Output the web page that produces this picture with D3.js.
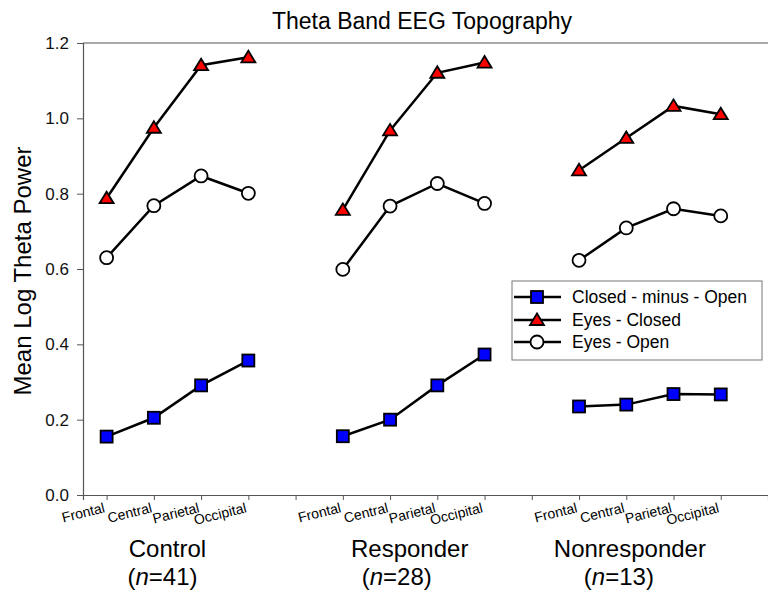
<!DOCTYPE html>
<html><head><meta charset="utf-8">
<script src="https://cdn.jsdelivr.net/npm/d3@7"></script>
<style>body{margin:0;background:#fff}svg{display:block}text{font-family:Arial,"Liberation Sans",sans-serif}</style>
</head><body><svg id="c" width="768" height="593"></svg>
<script>
const regions = ["Frontal","Central","Parietal","Occipital"];
const groups = ["Control","Responder","Nonresponder"];
const groupN = [41,28,13];
const yTicks = [0,0.2,0.4,0.6,0.8,1.0,1.2];
const seriesNames = ["Closed - minus - Open","Eyes - Closed","Eyes - Open"];
const closedMinusOpen = [[0.155,0.205,0.291,0.357],[0.156,0.200,0.291,0.373],[0.235,0.240,0.268,0.267]];
const eyesClosed = [[0.788,0.975,1.141,1.162],[0.757,0.968,1.121,1.148],[0.862,0.948,1.033,1.011]];
const eyesOpen = [[0.630,0.768,0.847,0.801],[0.599,0.767,0.827,0.774],[0.623,0.709,0.760,0.741]];

const svg = d3.select("#c");
const L=83, R=768, T=43, B=495;
const slots = groups.length*(regions.length+1);
const x = d3.scaleLinear().domain([-0.5, slots-1]).range([L,R]);
const y = d3.scaleLinear().domain([0,1.2]).range([B,T]);
const axisCol="#555";

svg.append("text").attr("x",422).attr("y",29).attr("text-anchor","middle")
  .attr("font-size",23).text("Theta Band EEG Topography");

svg.append("line").attr("x1",L).attr("x2",R).attr("y1",T).attr("y2",T).attr("stroke",axisCol).attr("stroke-width",1.2);

const ya = svg.append("g").attr("transform",`translate(${L},0)`)
  .call(d3.axisLeft(y).tickValues(yTicks).tickFormat(d3.format(".1f")).tickSize(6).tickPadding(8));
ya.select(".domain").attr("stroke",axisCol).attr("stroke-width",1.2);
ya.selectAll(".tick line").attr("stroke",axisCol);
ya.selectAll(".tick text").attr("font-size",17).attr("fill","#111").style("font-family","Arial, 'Liberation Sans', sans-serif");

const slotIdx = d3.range(slots-1);
const xa = svg.append("g").attr("transform",`translate(0,${B})`)
  .call(d3.axisBottom(x).tickValues(slotIdx).tickSize(5).tickFormat(""));
xa.select(".domain").attr("stroke",axisCol).attr("stroke-width",1.2);
xa.selectAll(".tick line").attr("stroke",axisCol);

groups.forEach((g,gi)=>{
  regions.forEach((r,ri)=>{
    const xi = gi*(regions.length+1)+ri;
    svg.append("text").attr("text-anchor","end").attr("font-size",14)
      .attr("transform",`translate(${x(xi)-1},${B+17}) rotate(-14)`).text(r);
  });
});

svg.append("text").attr("transform","translate(31,271) rotate(-90)").attr("text-anchor","middle")
  .attr("font-size",24).text("Mean Log Theta Power");

const nameDx=[-10,-4,-20], nDx=[-15,-17,-31];
groups.forEach((g,gi)=>{
  const cx = x(gi*(regions.length+1)+1.5);
  svg.append("text").attr("x",cx+nameDx[gi]).attr("y",557).attr("text-anchor","middle").attr("font-size",24).text(g);
  const t = svg.append("text").attr("x",cx+nDx[gi]).attr("y",585).attr("text-anchor","middle").attr("font-size",24);
  t.append("tspan").text("(");
  t.append("tspan").attr("font-style","italic").text("n");
  t.append("tspan").text("="+groupN[gi]+")");
});

function drawMarker(sel, type){
  if(type===0) sel.append("rect").attr("x",-6).attr("y",-6).attr("width",12).attr("height",12).attr("fill","#0000ff").attr("stroke","#000").attr("stroke-width",1.8);
  else if(type===1) sel.append("path").attr("d","M0,-6.5L7,5L-7,5Z").attr("fill","#ff0000").attr("stroke","#000").attr("stroke-width",1.8);
  else sel.append("circle").attr("r",6.5).attr("fill","#fff").attr("stroke","#000").attr("stroke-width",1.8);
}
const series=[closedMinusOpen,eyesClosed,eyesOpen];
const line = d3.line().x(d=>x(d[0])).y(d=>y(d[1]));
series.forEach(s=>{
  s.forEach((vals,gi)=>{
    const pts = vals.map((v,ri)=>[gi*(regions.length+1)+ri, v]);
    svg.append("path").attr("d",line(pts)).attr("fill","none").attr("stroke","#000").attr("stroke-width",2.5);
  });
});
series.forEach((s,si)=>{
  s.forEach((vals,gi)=>{
    vals.forEach((v,ri)=>{
      const g=svg.append("g").attr("transform",`translate(${x(gi*(regions.length+1)+ri)},${y(v)})`);
      drawMarker(g,si);
    });
  });
});

const lg = svg.append("g");
lg.append("rect").attr("x",512).attr("y",281).attr("width",250).attr("height",79).attr("fill","#fff").attr("stroke","#777").attr("stroke-width",1);
const rowY=[297,320,342];
seriesNames.forEach((n,i)=>{
  lg.append("line").attr("x1",514).attr("x2",561).attr("y1",rowY[i]).attr("y2",rowY[i]).attr("stroke","#000").attr("stroke-width",2.5);
  const g=lg.append("g").attr("transform",`translate(537,${rowY[i]})`);
  drawMarker(g,i);
  lg.append("text").attr("x",572).attr("y",rowY[i]+6).attr("font-size",17.5).text(n);
});
</script></body></html>
